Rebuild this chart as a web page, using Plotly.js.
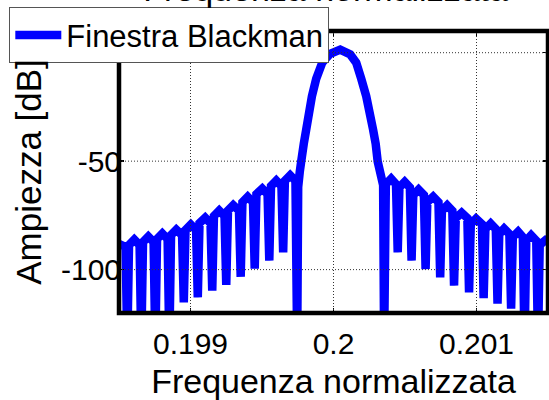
<!DOCTYPE html>
<html><head><meta charset="utf-8">
<script src="https://cdn.plot.ly/plotly-3.0.1.min.js"></script>
<style>html,body{margin:0;padding:0;background:#fff}</style>
</head><body><div id="chart" style="width:549px;height:400px"></div>
<script>
// Normalized frequency of each read point
const freq = [
 0.198474,0.198546,0.198558,0.198570,0.198607,0.198644,0.198656,0.198668,0.198705,0.198742,
 0.198754,0.198766,0.198803,0.198840,0.198852,0.198864,0.198901,0.198941,0.198953,0.198965,
 0.199002,0.199039,0.199051,0.199063,0.199103,0.199140,0.199152,0.199164,0.199201,0.199238,
 0.199250,0.199262,0.199299,0.199339,0.199351,0.199363,0.199400,0.199437,0.199449,0.199461,
 0.199502,0.199539,0.199551,0.199563,0.199600,0.199636,0.199648,0.199660,0.199697,0.199734,
 0.199746,0.199753,0.199764,0.199774,0.199792,0.199809,0.199849,0.199879,0.199921,0.199977,
 0.200047,0.200117,0.200159,0.200194,0.200229,0.200277,0.200295,0.200309,0.200326,0.200347,
 0.200354,0.200366,0.200403,0.200437,0.200449,0.200461,0.200498,0.200534,0.200546,0.200558,
 0.200595,0.200632,0.200644,0.200656,0.200697,0.200734,0.200746,0.200758,0.200795,0.200831,
 0.200843,0.200855,0.200896,0.200936,0.200948,0.200960,0.200997,0.201038,0.201050,0.201062,
 0.201099,0.201135,0.201147,0.201159,0.201193,0.201230,0.201242,0.201254,0.201291,0.201324,
 0.201336,0.201348,0.201382,0.201418,0.201430,0.201442,0.201486,0.201535
];
// Amplitude in dB at each point
const ampDb = [
 -87.3,-89.6,-135,-88.7,-86.2,-88.7,-135,-87.3,-84.8,-87.3,
 -135,-85.9,-83.4,-85.9,-135,-84.1,-81.6,-84.1,-115.1,-81.8,
 -79.3,-81.8,-112.8,-78.6,-76.1,-78.6,-109.7,-75.3,-72.8,-75.3,
 -107.0,-72.8,-70.3,-72.8,-103.3,-68.9,-66.4,-68.9,-99.6,-65.2,
 -62.7,-65.2,-95.9,-61.5,-59.0,-61.5,-92.1,-59.0,-56.5,-59.0,
 -135,-62,-55,-50.2,-42,-35.5,-20.1,-12,-4.6,-0.5,
 1.4,-0.8,-4.6,-12,-20.1,-35.5,-42,-50.2,-55,-61,
 -135,-60.6,-58.1,-60.6,-92.1,-62.1,-59.6,-62.1,-95.9,-65.6,
 -63.1,-65.6,-99.8,-68.9,-66.4,-68.9,-103.6,-72.9,-70.4,-72.9,
 -107.4,-76.3,-73.8,-76.3,-110.5,-79,-76.5,-79,-113.2,-81.3,
 -78.8,-81.3,-115.7,-83.6,-81.1,-83.6,-118,-85,-82.5,-85,
 -135,-86.7,-84.2,-86.7,-135,-88.7,-86.2,-86.8
];
const seriesName = 'Finestra Blackman';
const xTickVals = [0.199, 0.2, 0.201];
const xTickText = ['0.199', '0.2', '0.201'];
const yTickVals = [-100, -50, 0];
const yTickText = ['-100', '-50', '0'];
const xRange = [0.1985, 0.2015];
const yRange = [-120, 10];

const FONT = 'Liberation Sans, Arial, Helvetica, sans-serif';
const gridStyle = {color: '#333', width: 1, dash: '1px,2px'};
const shapes = [];
xTickVals.forEach(v => shapes.push({type:'line', xref:'x', yref:'paper', x0:v, x1:v, y0:0, y1:1, line:gridStyle, layer:'above'}));
yTickVals.forEach(v => shapes.push({type:'line', xref:'paper', yref:'y', x0:0, x1:1, y0:v, y1:v, line:gridStyle, layer:'above'}));
shapes.push({type:'rect', xref:'paper', yref:'paper', x0:0, x1:1, y0:0, y1:1, line:{color:'#000', width:4.5}, layer:'above'});

const trace = {
  x: freq, y: ampDb, type: 'scatter', mode: 'lines', name: seriesName,
  line: {color: '#0000ff', width: 8.5, simplify: false}
};

const layout = {
  width: 549, height: 400,
  margin: {l: 119, r: 1, t: 31, b: 87},
  paper_bgcolor: '#fff', plot_bgcolor: '#fff',
  font: {family: FONT, color: '#000'},
  title: {text: 'Frequenza normalizzata', font: {size: 34, family: FONT, color: '#000'},
          xref: 'container', x: 0.593, xanchor: 'center', yref: 'container', y: 0.99, yanchor: 'bottom',
          pad: {b: 3}},
  showlegend: true,
  legend: {x: -0.2557, y: 1.084, xanchor: 'left', yanchor: 'top', bgcolor: '#fff',
           bordercolor: '#555', borderwidth: 1, font: {size: 31, family: FONT, color: '#000'},
           itemwidth: 46},
  xaxis: {range: xRange, tickmode: 'array', tickvals: xTickVals, ticktext: xTickText,
          ticks: 'inside', ticklen: 5, tickwidth: 1.5, tickcolor: '#000', mirror: 'ticks',
          showline: false, showgrid: false, zeroline: false, layer: 'above traces',
          tickfont: {size: 30}, ticklabelstandoff: 10,
          title: {text: 'Frequenza normalizzata', font: {size: 34}, standoff: 10}},
  yaxis: {range: yRange, tickmode: 'array', tickvals: yTickVals, ticktext: yTickText,
          ticks: 'inside', ticklen: 5, tickwidth: 1.5, tickcolor: '#000', mirror: 'ticks',
          showline: false, showgrid: false, zeroline: false, layer: 'above traces',
          tickfont: {size: 30}, ticklabelstandoff: -3,
          title: {text: 'Ampiezza [dB]', font: {size: 35}, standoff: 8}},
  shapes: shapes
};

Plotly.newPlot('chart', [trace], layout, {staticPlot: true, displayModeBar: false});
</script>
</body></html>
